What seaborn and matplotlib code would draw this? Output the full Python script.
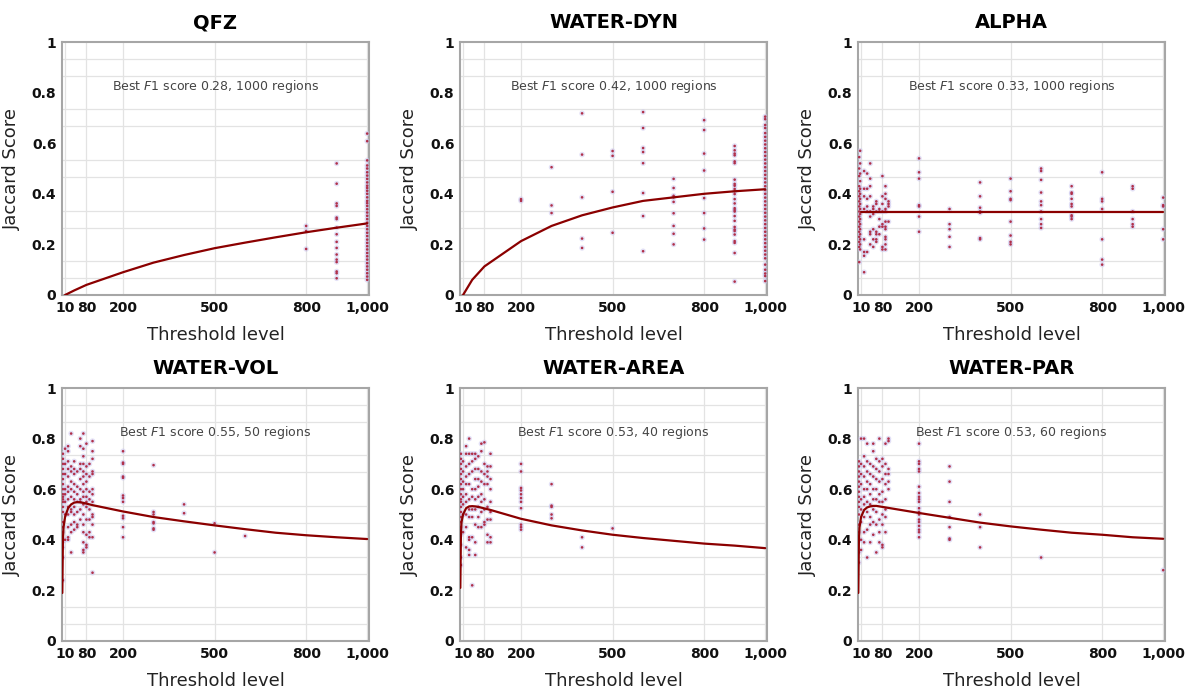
import numpy as np
import pandas as pd
import matplotlib
matplotlib.use("Agg")
import matplotlib.pyplot as plt
import seaborn as sns

# ---------------- data ----------------
titles = ["QFZ", "WATER-DYN", "ALPHA", "WATER-VOL", "WATER-AREA", "WATER-PAR"]
best_f1 = [0.28, 0.42, 0.33, 0.55, 0.53, 0.53]
best_regions = [1000, 1000, 1000, 50, 40, 60]
xtick_vals = [10, 80, 200, 500, 800, 1000]
xtick_labels = ["10", "80", "200", "500", "800", "1,000"]
ytick_vals = [0, 0.2, 0.4, 0.6, 0.8, 1.0]
ytick_labels = ["0", "0.2", "0.4", "0.6", "0.8", "1"]

# F1 curve thresholds and values
curve_x_coarse = [10, 40, 80, 200, 300, 400, 500, 600, 700, 800, 900, 1000]
qfz_curve = [0.0, 0.018, 0.04, 0.09, 0.128, 0.158, 0.185, 0.207, 0.228, 0.248, 0.266, 0.283]
dyn_curve = [0.0, 0.06, 0.113, 0.213, 0.273, 0.315, 0.346, 0.372, 0.386, 0.40, 0.41, 0.418]
alpha_curve = [0.33] * 12

curve_x_fine = [1, 3, 5, 10, 20, 30, 40, 50, 60, 70, 80, 90, 100,
                200, 300, 400, 500, 600, 700, 800, 900, 1000]
vol_curve = [0.19, 0.40, 0.45, 0.49, 0.525, 0.54, 0.547, 0.549, 0.548, 0.546, 0.543, 0.540, 0.537,
             0.512, 0.49, 0.473, 0.457, 0.442, 0.428, 0.418, 0.41, 0.403]
area_curve = [0.21, 0.42, 0.47, 0.50, 0.525, 0.532, 0.533, 0.532, 0.530, 0.527, 0.524, 0.521, 0.518,
              0.483, 0.457, 0.437, 0.42, 0.407, 0.396, 0.385, 0.377, 0.367]
par_curve = [0.19, 0.40, 0.45, 0.49, 0.518, 0.528, 0.532, 0.534, 0.534, 0.532, 0.530, 0.528, 0.526,
             0.506, 0.487, 0.468, 0.453, 0.44, 0.428, 0.42, 0.41, 0.404]

# per-region scores (threshold -> scores)
qfz_t = [800, 900, 1000]
qfz_s = [
    [0.273, 0.253, 0.182],
    [0.52, 0.44, 0.362, 0.352, 0.306, 0.30, 0.266, 0.24, 0.21, 0.186, 0.16, 0.14, 0.13, 0.093, 0.086, 0.066],
    [0.638, 0.608, 0.532, 0.512, 0.50, 0.485, 0.472, 0.459, 0.445, 0.432, 0.423, 0.412, 0.40, 0.386,
     0.372, 0.363, 0.352, 0.339, 0.326, 0.313, 0.30, 0.286, 0.273, 0.26, 0.246, 0.233, 0.219, 0.206,
     0.193, 0.18, 0.166, 0.153, 0.14, 0.126, 0.113, 0.10, 0.086, 0.073, 0.06],
]
dyn_t = [200, 300, 400, 500, 600, 700, 800, 900, 1000]
dyn_s = [
    [0.379, 0.372],
    [0.505, 0.354, 0.324],
    [0.718, 0.555, 0.386, 0.223, 0.186],
    [0.569, 0.55, 0.408, 0.246],
    [0.723, 0.66, 0.581, 0.565, 0.521, 0.403, 0.312, 0.173],
    [0.459, 0.423, 0.392, 0.386, 0.368, 0.323, 0.273, 0.242, 0.20],
    [0.691, 0.652, 0.559, 0.492, 0.383, 0.324, 0.263, 0.219],
    [0.589, 0.572, 0.559, 0.552, 0.528, 0.521, 0.456, 0.439, 0.432, 0.419, 0.41, 0.399, 0.379, 0.362,
     0.343, 0.336, 0.33, 0.312, 0.293, 0.269, 0.259, 0.253, 0.239, 0.213, 0.206, 0.166, 0.053],
    [0.705, 0.695, 0.672, 0.66, 0.64, 0.625, 0.61, 0.595, 0.58, 0.565, 0.55, 0.535, 0.52, 0.505, 0.49,
     0.475, 0.46, 0.445, 0.43, 0.415, 0.40, 0.385, 0.37, 0.355, 0.34, 0.325, 0.31, 0.295, 0.28, 0.265,
     0.25, 0.235, 0.22, 0.205, 0.19, 0.175, 0.16, 0.145, 0.12, 0.10, 0.085, 0.075, 0.055],
]
alpha_t = [4, 7, 20, 30, 40, 50, 60, 70, 80, 90, 100, 200, 300, 400, 500, 600, 700, 800, 900, 1000]
alpha_s = [
    [0.545, 0.50, 0.47, 0.43, 0.41, 0.39, 0.37, 0.35, 0.33, 0.31, 0.29, 0.27, 0.25, 0.23, 0.21, 0.19, 0.13],
    [0.57, 0.52, 0.48, 0.45, 0.42, 0.40, 0.38, 0.36, 0.34, 0.32, 0.30, 0.28, 0.26, 0.24, 0.22, 0.20, 0.18],
    [0.49, 0.42, 0.39, 0.34, 0.22, 0.17, 0.155, 0.09],
    [0.48, 0.42, 0.38, 0.35, 0.33, 0.17],
    [0.52, 0.46, 0.43, 0.39, 0.33, 0.31, 0.25, 0.24, 0.20],
    [0.35, 0.34, 0.32, 0.26, 0.22, 0.19],
    [0.37, 0.36, 0.33, 0.25, 0.24, 0.22, 0.21],
    [0.34, 0.33, 0.30, 0.27, 0.24],
    [0.47, 0.39, 0.36, 0.33, 0.28, 0.27, 0.19, 0.18],
    [0.43, 0.40, 0.38, 0.34, 0.33, 0.29, 0.27, 0.26, 0.23, 0.22, 0.20, 0.18],
    [0.37, 0.36, 0.35, 0.29],
    [0.54, 0.485, 0.46, 0.355, 0.35, 0.31, 0.25],
    [0.34, 0.28, 0.26, 0.23, 0.19],
    [0.445, 0.39, 0.345, 0.33, 0.325, 0.225, 0.22],
    [0.46, 0.41, 0.38, 0.375, 0.29, 0.235, 0.21, 0.20],
    [0.50, 0.49, 0.455, 0.405, 0.37, 0.355, 0.33, 0.30, 0.28, 0.265],
    [0.43, 0.405, 0.40, 0.38, 0.36, 0.35, 0.315, 0.31, 0.30],
    [0.485, 0.38, 0.37, 0.34, 0.22, 0.14, 0.12],
    [0.43, 0.42, 0.33, 0.30, 0.28, 0.27],
    [0.385, 0.355, 0.35, 0.26, 0.22],
]
vol_t = [3, 10, 20, 30, 40, 50, 60, 70, 80, 90, 100, 200, 300, 400, 500, 600]
vol_s = [
    [0.74, 0.72, 0.70, 0.68, 0.66, 0.64, 0.62, 0.60, 0.58, 0.57, 0.56, 0.55, 0.53, 0.51, 0.47, 0.45,
     0.43, 0.39, 0.37, 0.33, 0.24],
    [0.76, 0.70, 0.66, 0.60, 0.58, 0.55, 0.50, 0.40],
    [0.77, 0.75, 0.71, 0.68, 0.65, 0.61, 0.59, 0.56, 0.53, 0.50, 0.45, 0.41, 0.40],
    [0.82, 0.69, 0.67, 0.63, 0.60, 0.57, 0.52, 0.51, 0.46, 0.43, 0.35],
    [0.71, 0.68, 0.66, 0.62, 0.59, 0.56, 0.53, 0.50, 0.47, 0.44],
    [0.67, 0.61, 0.58, 0.55, 0.51, 0.46, 0.45],
    [0.80, 0.77, 0.70, 0.68, 0.64, 0.60, 0.56, 0.55, 0.52, 0.48],
    [0.82, 0.76, 0.73, 0.70, 0.67, 0.65, 0.62, 0.59, 0.57, 0.54, 0.50, 0.46, 0.43, 0.39, 0.36, 0.35],
    [0.78, 0.69, 0.66, 0.63, 0.60, 0.57, 0.55, 0.53, 0.48, 0.42, 0.38, 0.37],
    [0.70, 0.65, 0.59, 0.56, 0.52, 0.48, 0.43, 0.41],
    [0.79, 0.75, 0.72, 0.67, 0.66, 0.60, 0.58, 0.55, 0.50, 0.49, 0.46, 0.41, 0.27],
    [0.75, 0.705, 0.70, 0.65, 0.645, 0.575, 0.565, 0.55, 0.495, 0.485, 0.45, 0.41],
    [0.695, 0.51, 0.50, 0.47, 0.465, 0.445, 0.44],
    [0.54, 0.505],
    [0.465, 0.35],
    [0.415],
]
area_t = [3, 10, 20, 30, 40, 50, 60, 70, 80, 90, 100, 200, 300, 400, 500]
area_s = [
    [0.74, 0.72, 0.70, 0.68, 0.66, 0.64, 0.62, 0.60, 0.58, 0.56, 0.55, 0.53, 0.51, 0.49, 0.47, 0.45,
     0.42, 0.38, 0.33, 0.30],
    [0.71, 0.67, 0.63, 0.60, 0.57, 0.54, 0.50, 0.43],
    [0.77, 0.74, 0.69, 0.65, 0.62, 0.58, 0.55, 0.50, 0.45, 0.37],
    [0.80, 0.74, 0.70, 0.66, 0.62, 0.56, 0.52, 0.49, 0.41, 0.40, 0.36, 0.34],
    [0.74, 0.71, 0.67, 0.60, 0.57, 0.52, 0.49, 0.41, 0.22],
    [0.74, 0.72, 0.68, 0.64, 0.60, 0.56, 0.52, 0.46, 0.39, 0.34],
    [0.73, 0.68, 0.64, 0.61, 0.57, 0.53, 0.49, 0.45],
    [0.78, 0.75, 0.67, 0.63, 0.58, 0.55, 0.51, 0.45],
    [0.785, 0.70, 0.66, 0.62, 0.56, 0.52, 0.47, 0.46],
    [0.69, 0.67, 0.65, 0.62, 0.53, 0.48, 0.42, 0.39],
    [0.74, 0.69, 0.64, 0.60, 0.55, 0.51, 0.48, 0.41, 0.39],
    [0.70, 0.67, 0.605, 0.595, 0.58, 0.565, 0.55, 0.525, 0.46, 0.45, 0.44],
    [0.62, 0.535, 0.53, 0.50, 0.485],
    [0.41, 0.37],
    [0.445],
]
par_t = [3, 10, 20, 30, 40, 50, 60, 70, 80, 90, 100, 200, 300, 400, 600, 1000]
par_s = [
    [0.71, 0.69, 0.67, 0.65, 0.63, 0.61, 0.59, 0.57, 0.55, 0.53, 0.50, 0.46, 0.43, 0.40, 0.35, 0.31],
    [0.80, 0.70, 0.66, 0.62, 0.56, 0.52, 0.47, 0.40, 0.36],
    [0.80, 0.73, 0.69, 0.65, 0.60, 0.57, 0.54, 0.49, 0.43, 0.39],
    [0.78, 0.71, 0.67, 0.63, 0.60, 0.55, 0.51, 0.44, 0.33],
    [0.70, 0.66, 0.62, 0.58, 0.54, 0.49, 0.46, 0.39],
    [0.78, 0.75, 0.69, 0.65, 0.60, 0.56, 0.52, 0.47, 0.42],
    [0.72, 0.68, 0.64, 0.60, 0.56, 0.51, 0.46, 0.35],
    [0.80, 0.71, 0.67, 0.63, 0.58, 0.55, 0.48, 0.43, 0.39],
    [0.72, 0.69, 0.64, 0.59, 0.55, 0.50, 0.46, 0.38, 0.37],
    [0.78, 0.70, 0.66, 0.62, 0.56, 0.52, 0.49, 0.43],
    [0.80, 0.79, 0.68, 0.66, 0.63, 0.60],
    [0.78, 0.71, 0.70, 0.68, 0.67, 0.61, 0.585, 0.57, 0.56, 0.55, 0.525, 0.51, 0.50, 0.48, 0.47,
     0.455, 0.44, 0.43, 0.41],
    [0.69, 0.63, 0.55, 0.49, 0.45, 0.405, 0.40],
    [0.50, 0.45, 0.37],
    [0.33],
    [0.28],
]

curves_x = [curve_x_coarse, curve_x_coarse, curve_x_coarse, curve_x_fine, curve_x_fine, curve_x_fine]
curves_y = [qfz_curve, dyn_curve, alpha_curve, vol_curve, area_curve, par_curve]
pts_t = [qfz_t, dyn_t, alpha_t, vol_t, area_t, par_t]
pts_s = [qfz_s, dyn_s, alpha_s, vol_s, area_s, par_s]

# ---------------- style ----------------
sns.set_theme(style="white")
plt.rcParams["font.family"] = ["DejaVu Sans"]

line_color = "#8b0000"
dot_color = "#b0304a"
halo_color = "#c8c4ee"
spine_color = "#a6a6a6"
grid_color = "#e3e3e3"

fig = plt.figure(figsize=(11.88, 6.91), dpi=100)
W, H = 1188, 691
lefts = [62, 460, 858]
tops = [42, 388]
aw, ah = 307, 253

for i, title in enumerate(titles):
    r, c = divmod(i, 3)
    ax = fig.add_axes([lefts[c] / W, 1 - (tops[r] + ah) / H, aw / W, ah / H])

    # scatter of per-region scores
    xs, ys = [], []
    for t, vals in zip(pts_t[i], pts_s[i]):
        xs.extend([t] * len(vals))
        ys.extend(vals)
    df_pts = pd.DataFrame({"x": xs, "y": ys})
    sns.scatterplot(data=df_pts, x="x", y="y", ax=ax, s=16, color=halo_color,
                    alpha=0.5, edgecolor="none", zorder=3, legend=False)
    sns.scatterplot(data=df_pts, x="x", y="y", ax=ax, s=3.5, color=dot_color,
                    edgecolor="none", zorder=4, legend=False)

    df_line = pd.DataFrame({"x": curves_x[i], "y": curves_y[i]})
    sns.lineplot(data=df_line, x="x", y="y", ax=ax, color=line_color, lw=1.6,
                 zorder=5, legend=False)

    ax.set_xlim(0, 1006)
    ax.set_ylim(0, 1)
    ax.set_xticks(xtick_vals)
    ax.set_xticklabels(xtick_labels, fontsize=10, fontweight="bold")
    ax.set_yticks(ytick_vals)
    ax.set_yticklabels(ytick_labels, fontsize=10, fontweight="bold")
    ax.set_yticks(np.linspace(0, 1, 16), minor=True)
    ax.tick_params(axis="both", which="both", length=0, pad=4, colors="#111111")
    ax.grid(True, which="major", axis="x", color=grid_color, lw=0.9, zorder=0)
    ax.grid(True, which="minor", axis="y", color=grid_color, lw=0.9, zorder=0)
    ax.grid(False, which="major", axis="y")
    ax.set_axisbelow(True)
    for sp in ax.spines.values():
        sp.set_color(spine_color)
        sp.set_linewidth(1.5)
        sp.set_visible(True)

    ax.set_title(title, fontsize=14, fontweight="bold", pad=10, color="#000000")
    ax.set_xlabel("Threshold level", fontsize=13, labelpad=8, color="#222222")
    ax.set_ylabel("Jaccard Score", fontsize=13, labelpad=8, color="#222222")
    ax.text(0.5, 0.825, f"Best $F1$ score {best_f1[i]:.2f}, {best_regions[i]} regions",
            transform=ax.transAxes, ha="center", va="center", fontsize=9, color="#444444")

fig.savefig("out.png", dpi=100)
